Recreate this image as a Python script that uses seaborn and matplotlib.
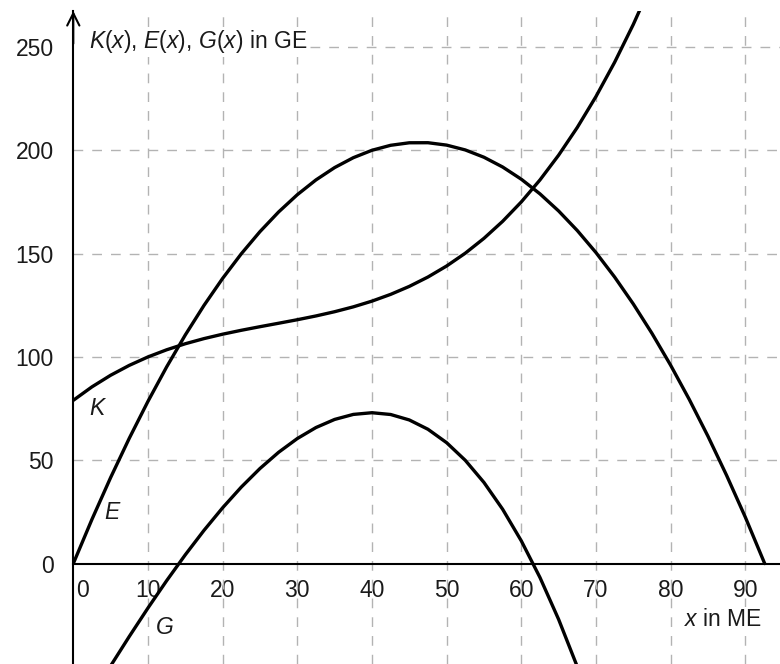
import numpy as np
import pandas as pd
import seaborn as sns
import matplotlib.pyplot as plt
from matplotlib.transforms import ScaledTranslation

# ----------------------------------------------------------------
# data (x in ME, values in GE)
# ----------------------------------------------------------------
x_k = [0, 2.5, 5, 7.5, 10, 12.5, 15, 17.5, 20, 22.5, 25, 27.5, 30, 32.5, 35, 37.5,
       40, 42.5, 45, 47.5, 50, 52.5, 55, 57.5, 60, 62.5, 65, 67.5, 70, 72.5, 75, 77.5]
k_vals = [79, 85.52, 91.13, 95.92, 100, 103.45, 106.38, 108.86, 111, 112.89, 114.63,
          116.3, 118, 119.83, 121.88, 124.23, 127, 130.27, 134.13, 138.67, 144, 150.2,
          157.38, 165.61, 175, 185.64, 197.63, 211.05, 226, 242.58, 260.88, 280.98]

x_e = [0, 2.5, 5, 7.5, 10, 12.5, 15, 17.5, 20, 22.5, 25, 27.5, 30, 32.5, 35, 37.5,
       40, 42.5, 45, 47.5, 50, 52.5, 55, 57.5, 60, 62.5, 65, 67.5, 70, 72.5, 75, 77.5,
       80, 82.5, 85, 87.5, 90, 92.6]
e_vals = [0, 21.41, 41.63, 60.66, 78.5, 95.16, 110.63, 124.91, 138, 149.91, 160.63,
          170.16, 178.5, 185.66, 191.63, 196.41, 200, 202.41, 203.63, 203.66, 202.5,
          200.16, 196.63, 191.91, 186, 178.91, 170.63, 161.16, 150.5, 138.66, 125.63,
          111.41, 96, 79.41, 61.63, 42.66, 22.5, 0]

x_g = [0, 2.5, 5, 7.5, 10, 12.5, 15, 17.5, 20, 22.5, 25, 27.5, 30, 32.5, 35, 37.5,
       40, 42.5, 45, 47.5, 50, 52.5, 55, 57.5, 60, 62.5, 65, 67.5, 70]
g_vals = [-79, -64.11, -49.5, -35.26, -21.5, -8.29, 4.25, 16.05, 27, 37.02, 46, 53.86,
          60.5, 65.83, 69.75, 72.18, 73, 72.14, 69.5, 64.99, 58.5, 49.96, 39.25, 26.3,
          11, -6.73, -27, -49.89, -75.5]

x_ticks = [0, 10, 20, 30, 40, 50, 60, 70, 80, 90]
y_ticks = [0, 50, 100, 150, 200, 250]

df = pd.concat([
    pd.DataFrame({"x": x_k, "y": k_vals, "curve": "K"}),
    pd.DataFrame({"x": x_e, "y": e_vals, "curve": "E"}),
    pd.DataFrame({"x": x_g, "y": g_vals, "curve": "G"}),
])

# ----------------------------------------------------------------
# style
# ----------------------------------------------------------------
sns.set_style("white")
plt.rcParams["font.family"] = ["Liberation Sans", "DejaVu Sans"]
plt.rcParams["mathtext.fontset"] = "custom"
plt.rcParams["mathtext.rm"] = "Liberation Sans"
plt.rcParams["mathtext.it"] = "Liberation Sans:italic"
plt.rcParams["lines.scale_dashes"] = False

fs = 16.5
txt_col = "#1a1a1a"
W, H = 780, 664
fig = plt.figure(figsize=(W / 100, H / 100), dpi=100)
ax = fig.add_axes([73.3 / W, 0, 1 - 73.3 / W, 653 / H])

xmax, ymin, ymax = 94.65, -48.6, 267.4
ax.set_xlim(0, xmax)
ax.set_ylim(ymin, ymax)

# dashed grid
grid_kw = dict(color="#b3b3b3", lw=1.0, dashes=(7, 6.5), zorder=1)
for gx in x_ticks[1:]:
    ax.axvline(gx, **grid_kw)
for gy in y_ticks[1:-1]:
    ax.axhline(gy, **grid_kw)
ax.axhline(250, xmin=31.7 / xmax, **grid_kw)

sns.lineplot(data=df, x="x", y="y", hue="curve", palette=["black"] * 3,
             legend=False, lw=2.4, sort=False, estimator=None, ax=ax, zorder=3)

# axes through origin
for s in ["top", "right"]:
    ax.spines[s].set_visible(False)
ax.spines["bottom"].set_position(("data", 0))
for s in ["bottom", "left"]:
    ax.spines[s].set_linewidth(1.5)
    ax.spines[s].set_color("black")

ax.set_xticks(x_ticks)
ax.set_yticks(y_ticks)
ax.set_xticklabels([str(v) for v in x_ticks])
ax.set_yticklabels([str(v) for v in y_ticks])
ax.tick_params(axis="both", direction="out", length=6, width=1.5, color="black",
               labelsize=fs, labelcolor=txt_col)
ax.tick_params(axis="y", pad=8)
ax.tick_params(axis="x", pad=5)
ax.set_xlabel("")
ax.set_ylabel("")
for lbl in ax.get_xticklabels():
    lbl.set_bbox(dict(fc="white", ec="none", pad=1))
zero_lbl = ax.get_xticklabels()[0]
zero_lbl.set_horizontalalignment("left")
zero_lbl.set_transform(zero_lbl.get_transform() + ScaledTranslation(3 / 100, 0, fig.dpi_scale_trans))

# arrows on the axes
ax.annotate("", xy=(0, 1.0), xycoords="axes fraction", xytext=(0, 0.95),
            arrowprops=dict(arrowstyle="->", lw=1.5, color="black",
                            mutation_scale=22, shrinkA=0, shrinkB=0),
            annotation_clip=False)

# axis titles
ax.text(2.1, 252.4, "$K$($x$), $E$($x$), $G$($x$) in GE", fontsize=fs,
        ha="left", va="center", color=txt_col, zorder=4,
        bbox=dict(fc="white", ec="none", pad=1))
ax.text(92.2, -27.2, "$x$ in ME", fontsize=fs, ha="right", va="center",
        color=txt_col, zorder=4, bbox=dict(fc="white", ec="none", pad=1))

# curve names
ax.text(3.1, 75.2, "K", fontsize=fs, style="italic", ha="center", va="center", color=txt_col)
ax.text(5.2, 24.7, "E", fontsize=fs, style="italic", ha="center", va="center", color=txt_col)
ax.text(12.3, -31.0, "G", fontsize=fs, style="italic", ha="center", va="center", color=txt_col)

fig.savefig("out.png", dpi=100)
